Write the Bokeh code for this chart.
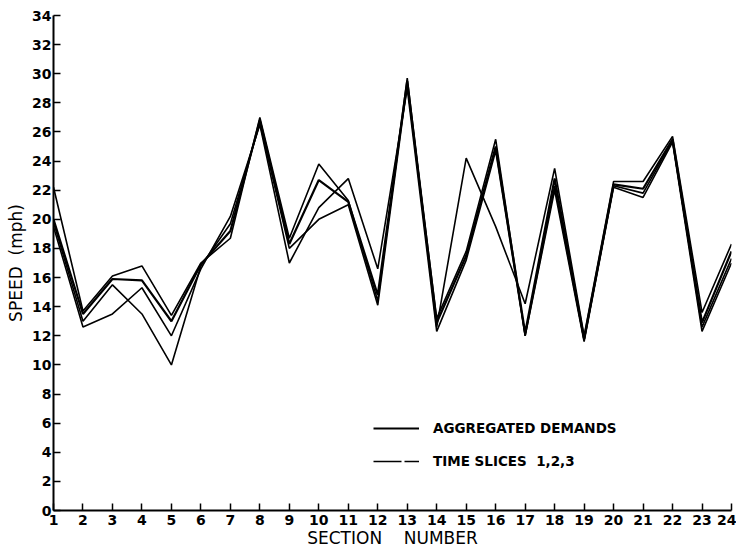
from bokeh.plotting import figure
from bokeh.models import Legend, LegendItem, FixedTicker, Range1d
from bokeh.embed import file_html
from bokeh.resources import INLINE

sections = list(range(1, 25))
aggregated = [20.0, 13.5, 15.9, 15.8, 13.0, 16.9, 19.2, 26.8, 18.3, 22.7, 21.2, 14.8, 29.5, 12.9,
              17.5, 25.0, 12.2, 22.8, 11.8, 22.4, 22.1, 25.5, 12.9, 17.8]
slice_1 = [22.2, 13.7, 16.1, 16.8, 13.4, 17.0, 18.7, 27.0, 18.7, 23.8, 21.3, 14.4, 29.7, 12.6,
           24.2, 19.5, 14.2, 23.5, 12.0, 22.6, 22.6, 25.7, 13.6, 18.3]
slice_2 = [19.8, 13.0, 15.5, 13.5, 10.0, 16.8, 19.7, 26.6, 18.0, 20.0, 21.0, 14.1, 29.3, 13.2,
           17.8, 25.5, 12.0, 22.3, 11.7, 22.3, 21.8, 25.4, 12.6, 17.3]
slice_3 = [19.5, 12.6, 13.5, 15.3, 12.0, 16.6, 20.2, 26.5, 17.0, 20.8, 22.8, 16.6, 29.0, 12.3,
           17.2, 24.7, 12.0, 22.0, 11.6, 22.2, 21.5, 25.3, 12.3, 17.0]

y_ticks = list(range(0, 35, 2))
x_ticks = sections
legend_labels = ["AGGREGATED DEMANDS", "TIME SLICES  1,2,3"]

FONT = "DejaVu Sans"
NAN = float("nan")

p = figure(width=736, height=550, output_backend="svg", toolbar_location=None,
           x_range=Range1d(1, 24), y_range=Range1d(0, 34),
           min_border_left=53, min_border_right=5, min_border_top=15, min_border_bottom=40)
p.outline_line_color = None
p.grid.grid_line_color = None
p.background_fill_color = "white"

for ys in (slice_1, slice_2, slice_3):
    p.line(sections, ys, line_color="black", line_width=1.6)
p.line(sections, aggregated, line_color="black", line_width=2.2)

# legend sample renderers (hold no visible data)
agg_leg = p.line(x=[NAN], y=[NAN], line_color="black", line_width=2.0)
sl_leg = p.line(x=[NAN], y=[NAN], line_color="black", line_width=1.6, line_dash="28 3")

legend = Legend(items=[LegendItem(label=legend_labels[0], renderers=[agg_leg]),
                       LegendItem(label=legend_labels[1], renderers=[sl_leg])],
                location=(320, 39), orientation="vertical",
                border_line_color=None, background_fill_alpha=0,
                glyph_width=46, glyph_height=20, label_height=20, spacing=13,
                padding=0, margin=0, label_standoff=14,
                label_text_font=FONT, label_text_font_size="13.5px",
                label_text_font_style="bold", label_text_color="black")
p.add_layout(legend, "center")

p.xaxis.ticker = FixedTicker(ticks=x_ticks)
p.yaxis.ticker = FixedTicker(ticks=y_ticks)
p.xaxis.minor_tick_line_color = None
p.yaxis.minor_tick_line_color = None
for ax in (p.xaxis, p.yaxis):
    ax.major_tick_in = 7
    ax.major_tick_out = 0
    ax.axis_line_width = 2
    ax.axis_line_color = "black"
    ax.major_tick_line_color = "black"
    ax.major_tick_line_width = 1.5
    ax.major_label_text_font = FONT
    ax.major_label_text_font_size = "14px"
    ax.major_label_text_font_style = "bold"
    ax.major_label_text_color = "black"
    ax.axis_label_text_font = FONT
    ax.axis_label_text_font_size = "17px"
    ax.axis_label_text_font_style = "normal"
    ax.axis_label_text_color = "black"
p.yaxis.major_label_standoff = 2
p.xaxis.major_label_standoff = 4
p.xaxis.axis_label = "SECTION\u00a0\u00a0\u00a0\u00a0NUMBER"
p.yaxis.axis_label = "SPEED\u00a0\u00a0(mph)"
p.xaxis.axis_label_standoff = 0
p.yaxis.axis_label_standoff = 3

open("out.html", "w").write(file_html(p, INLINE))
